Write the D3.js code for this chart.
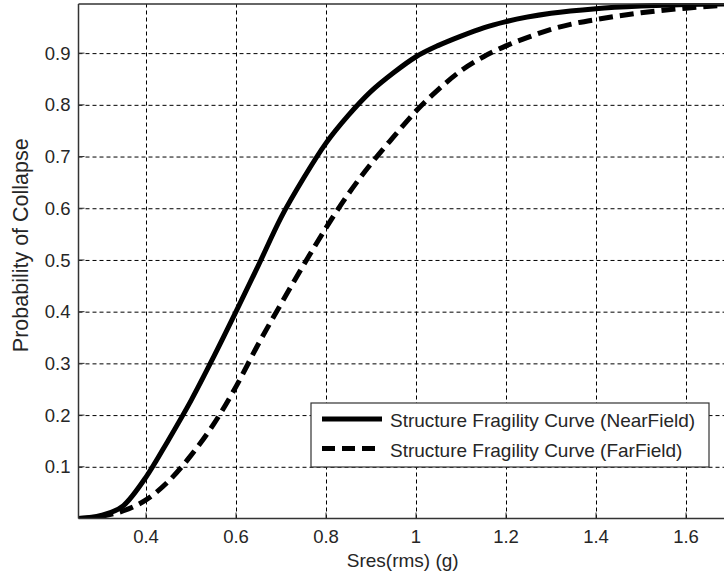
<!DOCTYPE html>
<html>
<head>
<meta charset="utf-8">
<script src="https://cdn.jsdelivr.net/npm/d3@7"></script>
<style>
  html, body { margin: 0; padding: 0; background: #fff; }
  svg { display: block; font-family: "Liberation Sans", Arial, sans-serif; }
</style>
</head>
<body>
<svg id="chart" width="724" height="579"></svg>
<script>
// ---- data ----
const xNear = [0.25, 0.30, 0.35, 0.40, 0.45, 0.50, 0.55, 0.60, 0.65, 0.70, 0.75, 0.80, 0.85, 0.90, 0.95, 1.00, 1.05, 1.10, 1.15, 1.20, 1.30, 1.40, 1.50, 1.60, 1.70];
const yNear = [0.000, 0.006, 0.025, 0.080, 0.152, 0.228, 0.312, 0.400, 0.490, 0.582, 0.658, 0.726, 0.780, 0.826, 0.862, 0.893, 0.915, 0.933, 0.949, 0.961, 0.977, 0.986, 0.991, 0.994, 0.995];
const xFar  = [0.25, 0.30, 0.35, 0.40, 0.45, 0.50, 0.55, 0.60, 0.65, 0.70, 0.75, 0.80, 0.85, 0.90, 0.95, 1.00, 1.05, 1.10, 1.15, 1.20, 1.25, 1.30, 1.35, 1.40, 1.50, 1.60, 1.70];
const yFar  = [0.000, 0.004, 0.015, 0.036, 0.072, 0.122, 0.182, 0.255, 0.338, 0.415, 0.490, 0.562, 0.628, 0.686, 0.738, 0.788, 0.830, 0.866, 0.893, 0.914, 0.931, 0.946, 0.957, 0.965, 0.978, 0.987, 0.993];
const xTicks = [0.4, 0.6, 0.8, 1.0, 1.2, 1.4, 1.6];
const xTickLabels = ["0.4", "0.6", "0.8", "1", "1.2", "1.4", "1.6"];
const yTicks = [0.1, 0.2, 0.3, 0.4, 0.5, 0.6, 0.7, 0.8, 0.9];
const yTickLabels = ["0.1", "0.2", "0.3", "0.4", "0.5", "0.6", "0.7", "0.8", "0.9"];
const seriesNames = ["Structure Fragility Curve (NearField)", "Structure Fragility Curve (FarField)"];
const xLabel = "Sres(rms) (g)";
const yLabel = "Probability of Collapse";

(function () {
// ---- layout ----
const svg = d3.select("#chart");
const pL = 78.5, pR = 731, pT = 4, pB = 518.5;
const x = d3.scaleLinear().domain([0.25, 1.7]).range([pL, pR]);
const y = d3.scaleLinear().domain([0, 0.995]).range([pB, pT]);
const textColor = "#262626";

svg.append("defs").append("clipPath").attr("id", "plotclip")
  .append("rect").attr("x", pL).attr("y", pT - 1).attr("width", pR - pL).attr("height", pB - pT + 1);

// grid
const gx = svg.append("g").attr("transform", `translate(0,${pB})`)
  .call(d3.axisBottom(x).tickValues(xTicks).tickSize(-(pB - pT)).tickFormat(""));
gx.select(".domain").remove();
gx.selectAll("line").attr("stroke", "#000").attr("stroke-width", 1).attr("stroke-dasharray", "4,3");

const gy = svg.append("g").attr("transform", `translate(${pL},0)`)
  .call(d3.axisLeft(y).tickValues(yTicks).tickSize(-(pR - pL)).tickFormat(""));
gy.select(".domain").remove();
gy.selectAll("line").attr("stroke", "#000").attr("stroke-width", 1).attr("stroke-dasharray", "4,3");

// curves
const line = d3.line().x(d => x(d[0])).y(d => y(d[1])).curve(d3.curveMonotoneX);
const nearData = xNear.map((v, i) => [v, yNear[i]]);
const farData = xFar.map((v, i) => [v, yFar[i]]);
const plot = svg.append("g").attr("clip-path", "url(#plotclip)");
plot.append("path").datum(farData).attr("d", line)
  .attr("fill", "none").attr("stroke", "#000").attr("stroke-width", 5)
  .attr("stroke-dasharray", "14,7");
plot.append("path").datum(nearData).attr("d", line)
  .attr("fill", "none").attr("stroke", "#000").attr("stroke-width", 5);

// axes box (left, bottom, top)
svg.append("line").attr("x1", pL).attr("x2", pL).attr("y1", pT).attr("y2", pB)
  .attr("stroke", "#333").attr("stroke-width", 1.5);
svg.append("line").attr("x1", pL).attr("x2", pR).attr("y1", pB).attr("y2", pB)
  .attr("stroke", "#333").attr("stroke-width", 1.5);
svg.append("line").attr("x1", pL).attr("x2", pR).attr("y1", pT).attr("y2", pT)
  .attr("stroke", "#333").attr("stroke-width", 1.5);

// inward ticks
svg.append("g").selectAll("line").data(xTicks).join("line")
  .attr("x1", d => x(d)).attr("x2", d => x(d)).attr("y1", pB).attr("y2", pB - 6)
  .attr("stroke", "#333").attr("stroke-width", 1);
svg.append("g").selectAll("line").data(yTicks).join("line")
  .attr("x1", pL).attr("x2", pL + 6).attr("y1", d => y(d)).attr("y2", d => y(d))
  .attr("stroke", "#333").attr("stroke-width", 1);

// tick labels
svg.append("g").selectAll("text").data(xTicks).join("text")
  .attr("x", d => x(d)).attr("y", 543)
  .attr("text-anchor", "middle").attr("font-size", 18.5).attr("fill", textColor)
  .text((d, i) => xTickLabels[i]);
svg.append("g").selectAll("text").data(yTicks).join("text")
  .attr("x", 70.5).attr("y", d => y(d) + 6.6)
  .attr("text-anchor", "end").attr("font-size", 18.5).attr("fill", textColor)
  .text((d, i) => yTickLabels[i]);

// axis labels
svg.append("text").attr("x", (pL + pR) / 2 - 2).attr("y", 567)
  .attr("text-anchor", "middle").attr("font-size", 19).attr("fill", textColor).text(xLabel);
svg.append("text").attr("transform", `translate(28,${(pT + pB) / 2 - 16}) rotate(-90)`)
  .attr("text-anchor", "middle").attr("font-size", 21.5).attr("fill", textColor).text(yLabel);

// legend
const lg = svg.append("g");
lg.append("rect").attr("x", 311).attr("y", 403).attr("width", 398).attr("height", 64)
  .attr("fill", "#fff").attr("stroke", "#333").attr("stroke-width", 1.2);
const legY = [419, 448.5];
lg.append("line").attr("x1", 322).attr("x2", 382).attr("y1", legY[0]).attr("y2", legY[0])
  .attr("stroke", "#000").attr("stroke-width", 5);
lg.append("line").attr("x1", 322).attr("x2", 382).attr("y1", legY[1]).attr("y2", legY[1])
  .attr("stroke", "#000").attr("stroke-width", 5).attr("stroke-dasharray", "13,7");
lg.selectAll("text").data(seriesNames).join("text")
  .attr("x", 390).attr("y", (d, i) => legY[i] + 8)
  .attr("font-size", 19).attr("fill", textColor).text(d => d);
})();
</script>
</body>
</html>
